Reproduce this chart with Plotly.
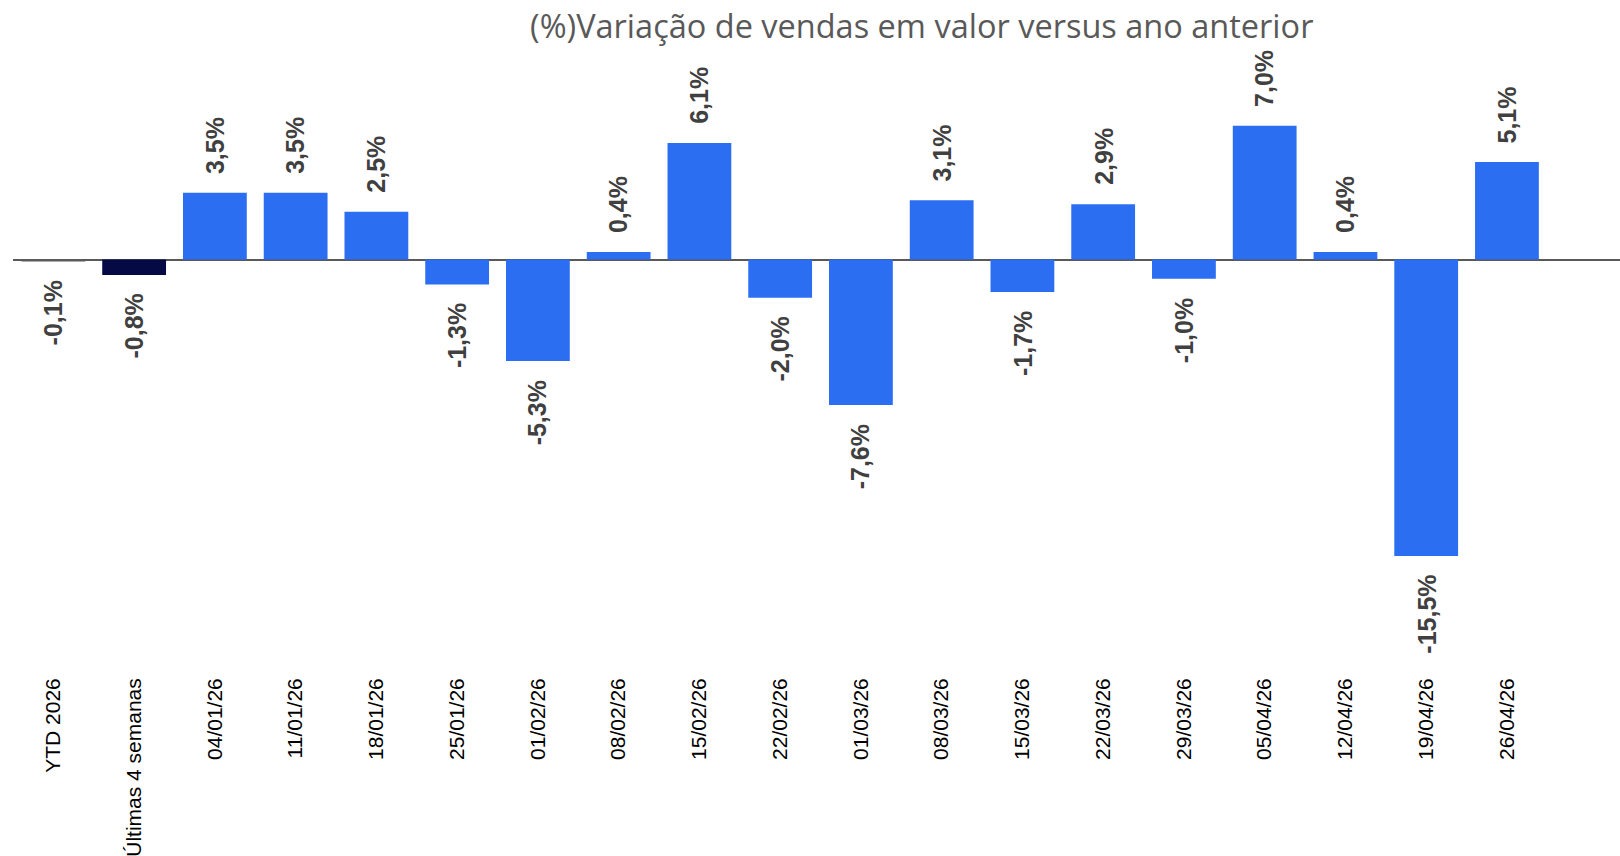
import plotly.graph_objects as go

categories = ["YTD 2026", "Últimas 4 semanas", "04/01/26", "11/01/26", "18/01/26", "25/01/26",
              "01/02/26", "08/02/26", "15/02/26", "22/02/26", "01/03/26", "08/03/26",
              "15/03/26", "22/03/26", "29/03/26", "05/04/26", "12/04/26", "19/04/26", "26/04/26"]
values = [-0.1, -0.8, 3.5, 3.5, 2.5, -1.3, -5.3, 0.4, 6.1, -2.0, -7.6, 3.1,
          -1.7, 2.9, -1.0, 7.0, 0.4, -15.5, 5.1]
labels = ["-0,1%", "-0,8%", "3,5%", "3,5%", "2,5%", "-1,3%", "-5,3%", "0,4%", "6,1%", "-2,0%",
          "-7,6%", "3,1%", "-1,7%", "2,9%", "-1,0%", "7,0%", "0,4%", "-15,5%", "5,1%"]

colors = ["#5a5a5a", "#050a45"] + ["#2b6ef2"] * (len(categories) - 2)

fig = go.Figure()
fig.add_trace(go.Bar(
    x=categories, y=values, marker=dict(color=colors, line=dict(width=0)),
    hoverinfo="skip",
))

for c, v, t in zip(categories, values, labels):
    fig.add_annotation(
        x=c, y=v, text=t, showarrow=False, textangle=-90,
        yanchor="bottom" if v >= 0 else "top",
        yshift=17 if v >= 0 else -17,
        font=dict(family="Liberation Sans, Arial", size=25, color="#404040", weight="bold"),
    )

fig.update_layout(
    width=1620, height=856,
    margin=dict(l=13, r=0, t=55, b=191),
    plot_bgcolor="white", paper_bgcolor="white",
    bargap=0.21,
    showlegend=False,
    title=dict(text="(%)Variação de vendas em valor versus ano anterior",
               x=0.569, xanchor="center", y=0.969, yanchor="middle",
               font=dict(family="Open Sans", size=32.5, color="#595959")),
)
fig.update_xaxes(
    type="category", range=[-0.5, 19.4], tickangle=-90,
    tickfont=dict(family="Liberation Sans, Arial", size=21, color="#000000"),
    showgrid=False, showline=False, ticks="", ticklabelstandoff=8,
)
fig.update_yaxes(
    range=[-21.2, 10.7], showgrid=False, showticklabels=False,
    zeroline=True, zerolinecolor="#595959", zerolinewidth=1.5,
)

fig.write_html("out.html", config={"displayModeBar": False},
               post_script="document.body.style.margin='0';")
